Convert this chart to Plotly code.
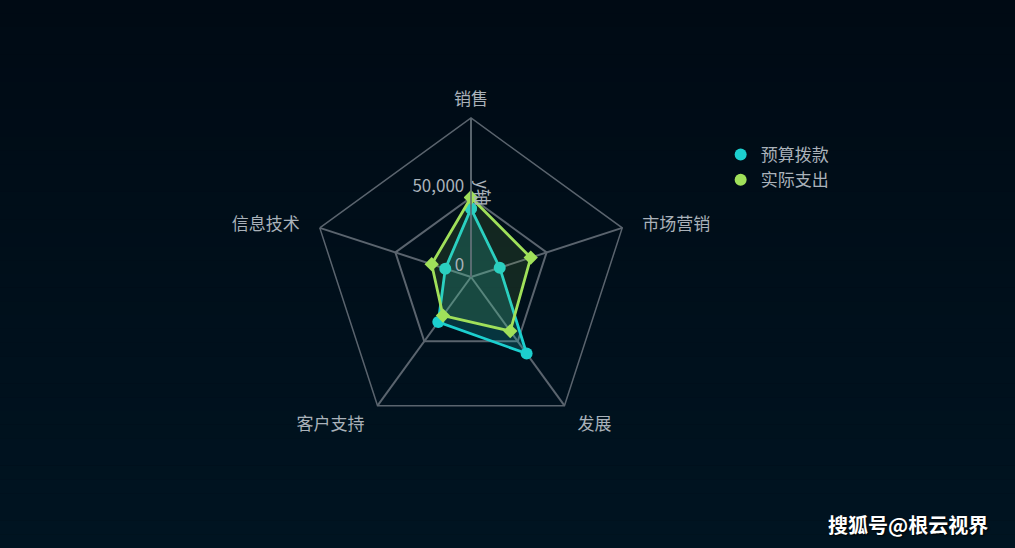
import plotly.graph_objects as go

categories = ["销售", "市场营销", "发展", "客户支持", "信息技术"]
budget = [43000, 19000, 59500, 35000, 17000]
actual = [50000, 39500, 42000, 30000, 26000]
series_names = ["预算拨款", "实际支出"]
radial_ticks = [0, 50000]
radial_ticktext = ["0<br> ", "50,000<br> "]
radial_title = "y轴"

CYAN = "#1ccfcf"
GREEN = "#a0e05a"
GRID = "#5a646e"
TEXT = "#aab2ba"
FONT = "Noto Sans CJK SC"

W, H = 1015, 548
cx, cy, R = 471, 277, 159

# extra horizontal padding for the side labels
NB = "\u00a0\u00a0\u00a0"
NB2 = "\u00a0\u00a0"
pad_text = {"市场营销": NB + "市场营销", "信息技术": "信息技术" + NB,
            "发展": NB2 + "发展", "客户支持": "客户支持" + NB2, "销售": "销售"}
angular_ticktext = [pad_text[c] for c in categories]

fig = go.Figure()

def closed(v):
    return list(v) + [v[0]]

fig.add_trace(go.Scatterpolar(
    r=closed(budget), theta=closed(categories), mode="lines+markers",
    name=series_names[0], showlegend=False,
    line=dict(color=CYAN, width=2.8),
    marker=dict(symbol="circle", size=12, color=CYAN),
    fill="toself", fillcolor="rgba(28,207,207,0.2)",
))
fig.add_trace(go.Scatterpolar(
    r=closed(actual), theta=closed(categories), mode="lines+markers",
    name=series_names[1], showlegend=False,
    line=dict(color=GREEN, width=2.8),
    marker=dict(symbol="diamond", size=11, color=GREEN),
    fill="toself", fillcolor="rgba(160,224,90,0.12)",
))
# legend entries
for nm, col in zip(series_names, [CYAN, GREEN]):
    fig.add_trace(go.Scatterpolar(
        r=[None], theta=[categories[0]], mode="markers", name=nm,
        marker=dict(symbol="circle", size=18, color=col), showlegend=True,
    ))

# background gradient bands
shapes = []
n = 40
top = (0, 10, 20)
bot = (0, 20, 33)
for i in range(n):
    t = i / (n - 1)
    c = tuple(int(round(top[k] + (bot[k] - top[k]) * t)) for k in range(3))
    shapes.append(dict(type="rect", xref="paper", yref="paper",
                       x0=0, x1=1, y0=1 - (i + 1) / n, y1=1 - i / n,
                       fillcolor="rgb(%d,%d,%d)" % c, line=dict(width=0),
                       layer="below"))

fig.update_layout(
    width=W, height=H,
    margin=dict(l=0, r=0, t=0, b=0),
    paper_bgcolor="rgb(0,15,26)",
    plot_bgcolor="rgba(0,0,0,0)",
    font=dict(family=FONT, color=TEXT, size=17),
    shapes=shapes,
    polar=dict(
        domain=dict(x=[(cx - R) / W, (cx + R) / W],
                    y=[1 - (cy + R) / H, 1 - (cy - R) / H]),
        bgcolor="rgba(0,0,0,0)",
        gridshape="linear",
        radialaxis=dict(
            range=[0, 99990], tickvals=radial_ticks, ticktext=radial_ticktext,
            angle=90, tickangle=90, side="counterclockwise",
            showline=True, linecolor=GRID, linewidth=1.5,
            gridcolor=GRID, gridwidth=1.5, ticks="",
            tickfont=dict(size=17, color=TEXT),
        ),
        angularaxis=dict(
            rotation=90, direction="clockwise", linecolor=GRID, linewidth=1.5,
            gridcolor=GRID, gridwidth=1.5, ticks="outside", ticklen=5,
            tickcolor="rgba(0,0,0,0)",
            tickvals=categories, ticktext=angular_ticktext,
            tickfont=dict(size=17, color=TEXT),
        ),
    ),
    legend=dict(x=0.71, y=0.75, xanchor="left", yanchor="top",
                bgcolor="rgba(0,0,0,0)", font=dict(size=17, color=TEXT),
                itemsizing="constant", tracegroupgap=0),
    annotations=[
        dict(text=radial_title, x=484 / W, y=1 - 193 / H,
             xref="paper", yref="paper", xanchor="center", yanchor="middle",
             textangle=90, showarrow=False,
             font=dict(size=17, color=TEXT, family=FONT)),
        dict(text="<b>搜狐号@根云视界</b>", x=990 / W, y=1 - 524 / H,
             xref="paper", yref="paper", xanchor="right", yanchor="middle",
             showarrow=False,
             font=dict(size=20, color="#ffffff", family=FONT,
                       shadow="1px 1px 2px #000000")),
    ],
)

fig.write_html(
    "out.html",
    config={"displayModeBar": False},
    post_script="document.body.style.margin='0';document.body.style.overflow='hidden';document.body.style.background='rgb(0,15,26)';",
)
